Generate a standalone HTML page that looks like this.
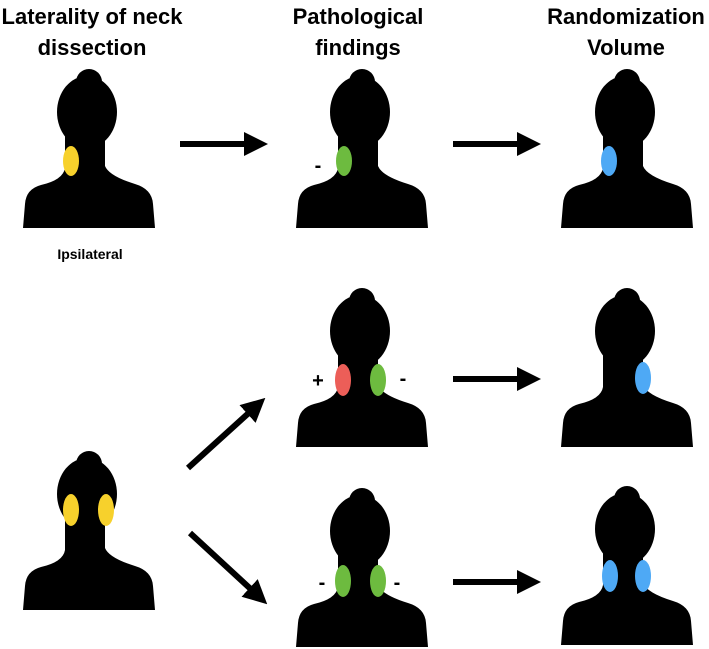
<!DOCTYPE html>
<html><head><meta charset="utf-8"><style>
body{margin:0;background:#fff;}
svg{display:block;}
text{font-family:"Liberation Sans",Arial,sans-serif;font-weight:bold;fill:#000;}
</style></head><body>
<svg width="709" height="649" viewBox="0 0 709 649" xmlns="http://www.w3.org/2000/svg">
<defs>
<g id="p">
<circle cx="66" cy="14" r="13"/>
<ellipse cx="64" cy="44" rx="30" ry="36"/>
<path d="M42 60 L42 100 Q40 112 18 117 Q3 121 2 136 L0 160 L132 160 L130 136 Q129 121 112 116 Q86 108 82 98 L82 60 Z"/>
</g>
<marker id="a" markerWidth="4" markerHeight="4" refX="1" refY="2" orient="auto" markerUnits="strokeWidth"><path d="M0,0 L4,2 L0,4 Z"/></marker>
</defs>
<g font-size="22" text-anchor="middle">
<text x="92" y="24">Laterality of neck</text>
<text x="92" y="55">dissection</text>
<text x="358" y="24">Pathological</text>
<text x="358" y="55">findings</text>
<text x="626" y="24">Randomization</text>
<text x="626" y="55">Volume</text>
</g>
<text x="90" y="259" font-size="14" text-anchor="middle">Ipsilateral</text>
<text x="90" y="608" font-size="14" text-anchor="middle">Bilateral</text>

<use href="#p" x="23" y="68"/>
<use href="#p" x="296" y="68"/>
<use href="#p" x="561" y="68"/>
<use href="#p" x="296" y="287"/>
<use href="#p" x="561" y="287"/>
<use href="#p" x="23" y="450"/>
<use href="#p" x="296" y="487"/>
<use href="#p" x="561" y="485"/>

<ellipse cx="71" cy="161" rx="8" ry="15" fill="#f7d12c"/>
<ellipse cx="344" cy="161" rx="8" ry="15" fill="#6dbb3f"/>
<ellipse cx="609" cy="161" rx="8" ry="15" fill="#4ea9f5"/>
<ellipse cx="343" cy="380" rx="8" ry="16" fill="#ec5e58"/>
<ellipse cx="378" cy="380" rx="8" ry="16" fill="#6dbb3f"/>
<ellipse cx="643" cy="378" rx="8" ry="16" fill="#4ea9f5"/>
<ellipse cx="71" cy="510" rx="8" ry="16" fill="#f7d12c"/>
<ellipse cx="106" cy="510" rx="8" ry="16" fill="#f7d12c"/>
<ellipse cx="343" cy="581" rx="8" ry="16" fill="#6dbb3f"/>
<ellipse cx="378" cy="581" rx="8" ry="16" fill="#6dbb3f"/>
<ellipse cx="610" cy="576" rx="8" ry="16" fill="#4ea9f5"/>
<ellipse cx="643" cy="576" rx="8" ry="16" fill="#4ea9f5"/>

<g font-size="20" text-anchor="middle">
<text x="318" y="172">-</text>
<text x="318" y="387">+</text>
<text x="403" y="385">-</text>
<text x="322" y="589">-</text>
<text x="397" y="589">-</text>
</g>

<g stroke="#000" stroke-width="6" fill="none">
<line x1="180" y1="144" x2="250" y2="144" marker-end="url(#a)"/>
<line x1="453" y1="144" x2="523" y2="144" marker-end="url(#a)"/>
<line x1="453" y1="379" x2="523" y2="379" marker-end="url(#a)"/>
<line x1="453" y1="582" x2="523" y2="582" marker-end="url(#a)"/>
<line x1="188" y1="468" x2="252" y2="410" marker-end="url(#a)"/>
<line x1="190" y1="533" x2="254" y2="592" marker-end="url(#a)"/>
</g>
</svg>
</body></html>
